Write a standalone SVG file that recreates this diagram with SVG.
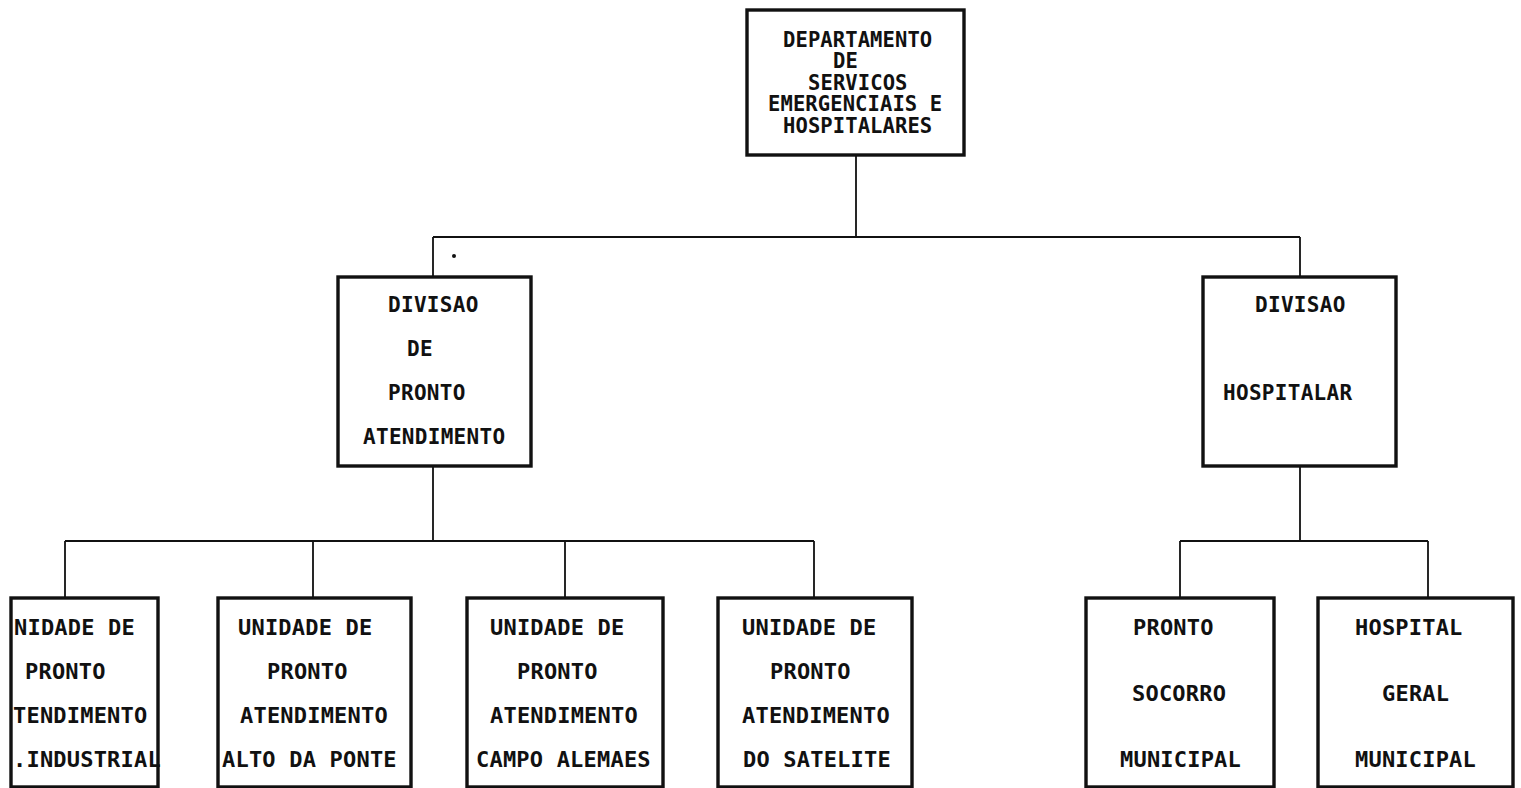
<svg xmlns="http://www.w3.org/2000/svg" width="1521" height="788" viewBox="0 0 1521 788">
<style>
.box{fill:none;stroke:#111;stroke-width:3.4}
.ln{fill:none;stroke:#111;stroke-width:1.8}
text{font-family:"DejaVu Sans Mono","Liberation Mono",monospace;font-weight:bold;fill:#111}
.t1{font-size:20.5px;letter-spacing:0.1px}
.t2{font-size:21px;letter-spacing:0.3px}
.t3{font-size:22px;letter-spacing:0.2px}
</style>
<rect width="1521" height="788" fill="#fff"/>
<g id="connectors">
<path class="ln" d="M856 155V237M433 237H1300M433 237V277M1300 237V277"/>
<path class="ln" d="M433 466V541M65 541H814M65 541V598M313 541V598M565 541V598M814 541V598"/>
<path class="ln" d="M1300 466V541M1180 541H1428M1180 541V598M1428 541V598"/>
<circle cx="454" cy="256" r="2" fill="#111"/>
</g>
<g id="dept">
<rect class="box" x="747" y="10" width="217" height="145"/>
<text class="t1" x="783" y="47">DEPARTAMENTO</text>
<text class="t1" x="833" y="68">DE</text>
<text class="t1" x="808" y="90">SERVICOS</text>
<text class="t1" x="768" y="111">EMERGENCIAIS E</text>
<text class="t1" x="783" y="133">HOSPITALARES</text>
</g>
<g id="div-pronto">
<rect class="box" x="338" y="277" width="193" height="189"/>
<text class="t2" x="388" y="312">DIVISAO</text>
<text class="t2" x="407" y="356">DE</text>
<text class="t2" x="388" y="400">PRONTO</text>
<text class="t2" x="363" y="444">ATENDIMENTO</text>
</g>
<g id="div-hosp">
<rect class="box" x="1203" y="277" width="193" height="189"/>
<text class="t2" x="1255" y="312">DIVISAO</text>
<text class="t2" x="1223" y="400">HOSPITALAR</text>
</g>
<g id="u-industrial">
<rect class="box" x="11" y="598" width="147" height="189"/>
<text class="t3" x="14" y="635">NIDADE DE</text>
<text class="t3" x="25" y="679">PRONTO</text>
<text class="t3" x="13" y="723">TENDIMENTO</text>
<text class="t3" x="13" y="767">.INDUSTRIAL</text>
</g>
<g id="u-alto">
<rect class="box" x="218" y="598" width="193" height="189"/>
<text class="t3" x="238" y="635">UNIDADE DE</text>
<text class="t3" x="267" y="679">PRONTO</text>
<text class="t3" x="240" y="723">ATENDIMENTO</text>
<text class="t3" x="218" y="767" dx="4">ALTO DA PONTE</text>
</g>
<g id="u-campo">
<rect class="box" x="467" y="598" width="196" height="189"/>
<text class="t3" x="490" y="635">UNIDADE DE</text>
<text class="t3" x="517" y="679">PRONTO</text>
<text class="t3" x="490" y="723">ATENDIMENTO</text>
<text class="t3" x="476" y="767">CAMPO ALEMAES</text>
</g>
<g id="u-satelite">
<rect class="box" x="718" y="598" width="194" height="189"/>
<text class="t3" x="742" y="635">UNIDADE DE</text>
<text class="t3" x="770" y="679">PRONTO</text>
<text class="t3" x="742" y="723">ATENDIMENTO</text>
<text class="t3" x="743" y="767">DO SATELITE</text>
</g>
<g id="pronto-socorro">
<rect class="box" x="1086" y="598" width="188" height="189"/>
<text class="t3" x="1133" y="635">PRONTO</text>
<text class="t3" x="1132" y="701">SOCORRO</text>
<text class="t3" x="1120" y="767">MUNICIPAL</text>
</g>
<g id="hospital-geral">
<rect class="box" x="1318" y="598" width="195" height="189"/>
<text class="t3" x="1355" y="635">HOSPITAL</text>
<text class="t3" x="1382" y="701">GERAL</text>
<text class="t3" x="1355" y="767">MUNICIPAL</text>
</g>
</svg>
